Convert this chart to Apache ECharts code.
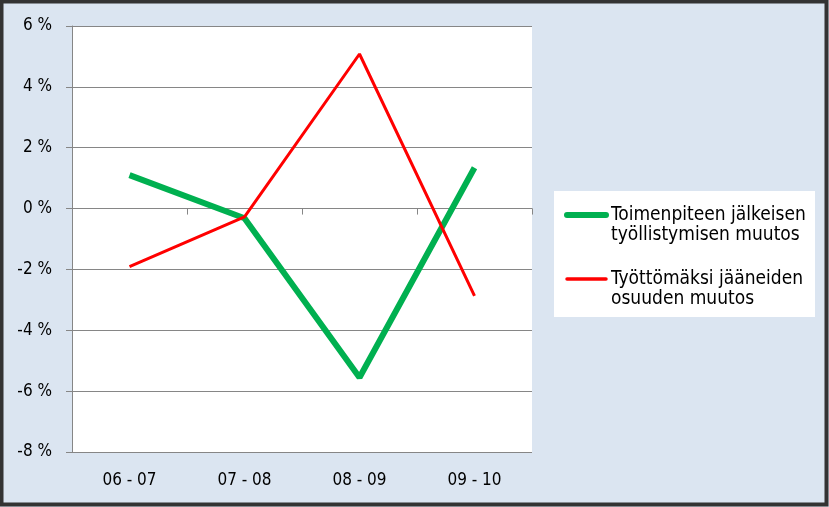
<!DOCTYPE html>
<html><head><meta charset="utf-8">
<script src="https://cdn.jsdelivr.net/npm/echarts@6/dist/echarts.min.js"></script>
<style>html,body{margin:0;padding:0;background:#DBE5F1}#c{width:829px;height:507px}</style>
</head><body><div id="c"></div>
<script>
const categories = ['06 - 07', '07 - 08', '08 - 09', '09 - 10'];
const seriesNames = ['Toimenpiteen jälkeisen\ntyöllistymisen muutos', 'Työttömäksi jääneiden\nosuuden muutos'];
const greenValues = [1.10, -0.32, -5.55, 1.34];
const redValues = [-1.91, -0.27, 5.08, -2.87];
const yTicks = { min: -8, max: 6, interval: 2 };

const FONT = '"Liberation Sans Narrow","DejaVu Sans Condensed","Liberation Sans",sans-serif';
const chart = echarts.init(document.getElementById('c'));
chart.setOption({
  backgroundColor: '#DBE5F1',
  animation: false,
  textStyle: { fontFamily: FONT },
  graphic: [
    { type: 'rect', z: 100, shape: { x: 1.5, y: 1.5, width: 825, height: 503 }, style: { fill: 'none', stroke: '#333333', lineWidth: 4 } },
    { type: 'rect', z: 0, shape: { x: 554, y: 191, width: 261, height: 126 }, style: { fill: '#ffffff' } }
  ],
  grid: { left: 72, top: 26, width: 460, height: 426, backgroundColor: '#ffffff', show: true, borderWidth: 0 },
  legend: {
    orient: 'vertical', left: 564, top: 185, padding: 0, itemWidth: 39, itemHeight: 6, itemGap: 4,
    itemStyle: { color: 'rgba(0,0,0,0)', borderWidth: 0 },
    formatter: name => '\n' + name,
    textStyle: { fontFamily: FONT, fontSize: 19, color: '#000', lineHeight: 20 },
    data: [
      { name: seriesNames[0], lineStyle: { width: 6, cap: 'round' } },
      { name: seriesNames[1], lineStyle: { width: 3.5, cap: 'round' } }
    ]
  },
  xAxis: [
    { type: 'category', data: categories, boundaryGap: true,
      axisLine: { onZero: true, lineStyle: { color: '#868686', width: 1 } },
      axisTick: { show: true, length: 6, lineStyle: { color: '#868686' } },
      axisLabel: { show: false } },
    { type: 'category', data: categories, position: 'bottom', boundaryGap: true,
      axisLine: { show: false, onZero: false }, axisTick: { show: false },
      axisLabel: { show: true, margin: 20, fontSize: 17, color: '#000', fontFamily: FONT } }
  ],
  yAxis: {
    type: 'value', min: yTicks.min, max: yTicks.max, interval: yTicks.interval,
    axisLine: { show: true, lineStyle: { color: '#868686' } },
    axisTick: { show: true, length: 6, lineStyle: { color: '#868686' } },
    splitLine: { show: true, lineStyle: { color: '#868686', width: 1 } },
    axisLabel: { fontSize: 17, color: '#000', margin: 20, fontFamily: FONT, formatter: v => v + ' %' }
  },
  series: [
    { name: seriesNames[0], type: 'line', data: greenValues, symbol: 'none', xAxisIndex: 0,
      lineStyle: { color: '#00B050', width: 6 }, itemStyle: { color: '#00B050' }, z: 2 },
    { name: seriesNames[1], type: 'line', data: redValues, symbol: 'none', xAxisIndex: 0,
      lineStyle: { color: '#FF0000', width: 3 }, itemStyle: { color: '#FF0000' }, z: 3 }
  ]
});
</script></body></html>
